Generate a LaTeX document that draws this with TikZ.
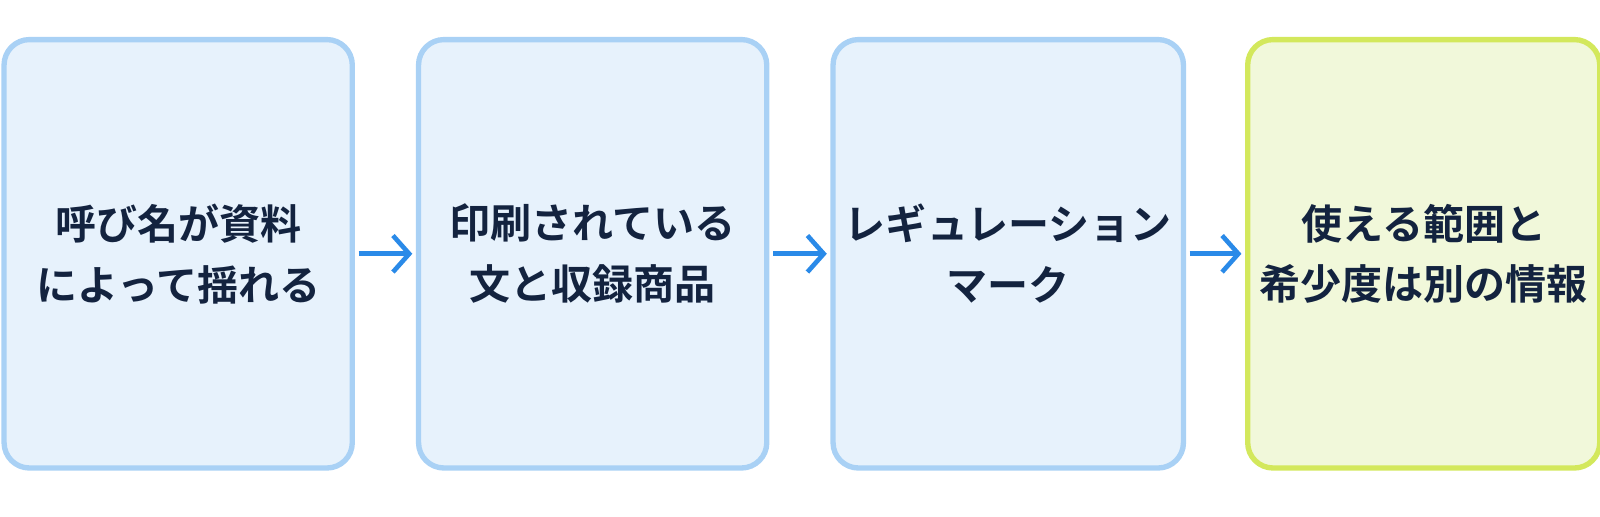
\documentclass[tikz,border=0pt]{standalone}
\usepackage{fontspec}
\newfontfamily\cjk{Noto Sans CJK JP}[BoldFont={Noto Sans CJK JP Bold}]
\usetikzlibrary{positioning, arrows.meta}
\definecolor{stepFill}{HTML}{E7F2FC}
\definecolor{stepLine}{HTML}{A9D1F5}
\definecolor{goalFill}{HTML}{F1F8DA}
\definecolor{goalLine}{HTML}{D3E85C}
\definecolor{arrowBlue}{HTML}{2A8AE8}
\definecolor{textNavy}{HTML}{13233F}
\tikzstyle{stepBox}=[draw=stepLine, fill=stepFill, line width=1.5pt, rounded corners=0.25cm,
  minimum width=3.43cm, minimum height=4.22cm, align=center, text=textNavy,
  font=\cjk\bfseries\fontsize{11.5pt}{17pt}\selectfont]
\tikzstyle{goalBox}=[stepBox, draw=goalLine, fill=goalFill, minimum width=3.46cm]
\tikzstyle{arrow}=[-{Straight Barb[length=1.6mm,width=3.6mm]}, draw=arrowBlue, line width=1.3pt,
  shorten <=1pt, shorten >=1pt]
\begin{document}%
\begin{tikzpicture}[node distance = 0.6cm]%
  \useasboundingbox (0,0) rectangle (15.76,5.09);
  \node[stepBox] (name) at (1.755,2.59) {呼び名が資料\\によって揺れる};
  \node[stepBox, right=of name] (print) {印刷されている\\文と収録商品};
  \node[stepBox, right=of print] (mark) {レギュレーション\\マーク};
  \node[goalBox, right=0.58cm of mark] (range) {使える範囲と\\希少度は別の情報};
  \draw[arrow] (name) -- (print);
  \draw[arrow] (print) -- (mark);
  \draw[arrow] (mark) -- (range);
\end{tikzpicture}%
\end{document}
